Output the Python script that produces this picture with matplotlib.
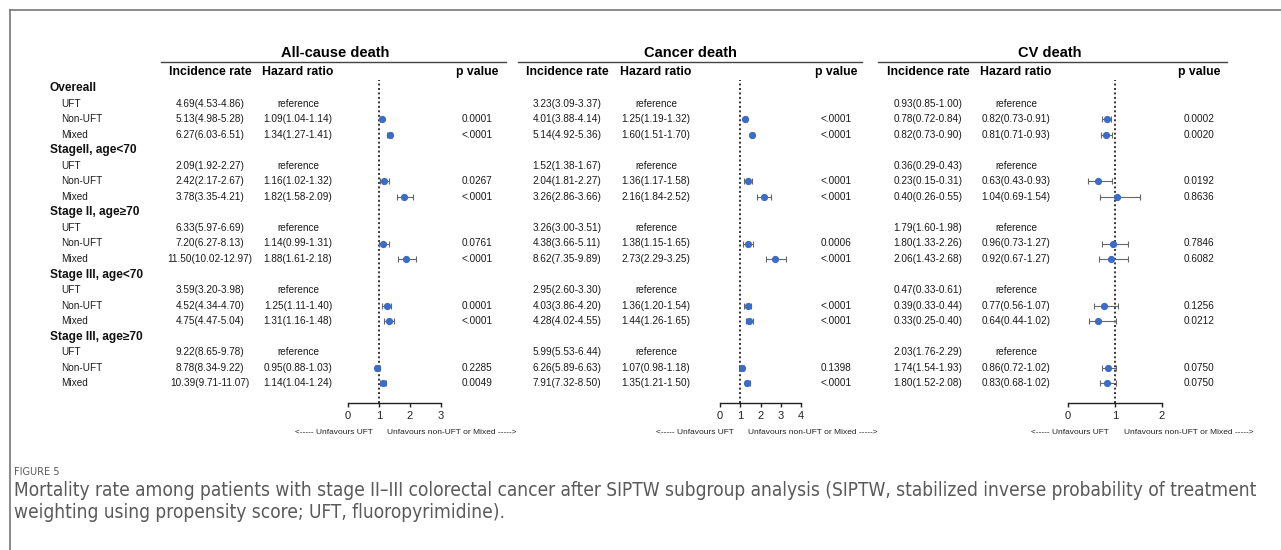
import matplotlib
matplotlib.use('Agg')
import matplotlib.pyplot as plt

plt.rcParams['font.family'] = ['Liberation Sans', 'DejaVu Sans']

# --- data -------------------------------------------------------------
groups = ['Overeall', 'StageII, age<70', 'Stage II, age\u226570',
          'Stage III, age<70', 'Stage III, age\u226570']
arms = ['UFT', 'Non-UFT', 'Mixed']
panels = ['All-cause death', 'Cancer death', 'CV death']

# incidence rate (UFT, Non-UFT, Mixed) per group
ac_rate = [[4.69, 5.13, 6.27], [2.09, 2.42, 3.78], [6.33, 7.20, 11.50], [3.59, 4.52, 4.75], [9.22, 8.78, 10.39]]
ac_rate_lo = [[4.53, 4.98, 6.03], [1.92, 2.17, 3.35], [5.97, 6.27, 10.02], [3.20, 4.34, 4.47], [8.65, 8.34, 9.71]]
ac_rate_hi = [[4.86, 5.28, 6.51], [2.27, 2.67, 4.21], [6.69, 8.13, 12.97], [3.98, 4.70, 5.04], [9.78, 9.22, 11.07]]
# hazard ratio (Non-UFT, Mixed) vs UFT
ac_hr = [[1.09, 1.34], [1.16, 1.82], [1.14, 1.88], [1.25, 1.31], [0.95, 1.14]]
ac_hr_lo = [[1.04, 1.27], [1.02, 1.58], [0.99, 1.61], [1.11, 1.16], [0.88, 1.04]]
ac_hr_hi = [[1.14, 1.41], [1.32, 2.09], [1.31, 2.18], [1.40, 1.48], [1.03, 1.24]]
ac_p = [['0.0001', '<.0001'], ['0.0267', '<.0001'], ['0.0761', '<.0001'], ['0.0001', '<.0001'], ['0.2285', '0.0049']]

ca_rate = [[3.23, 4.01, 5.14], [1.52, 2.04, 3.26], [3.26, 4.38, 8.62], [2.95, 4.03, 4.28], [5.99, 6.26, 7.91]]
ca_rate_lo = [[3.09, 3.88, 4.92], [1.38, 1.81, 2.86], [3.00, 3.66, 7.35], [2.60, 3.86, 4.02], [5.53, 5.89, 7.32]]
ca_rate_hi = [[3.37, 4.14, 5.36], [1.67, 2.27, 3.66], [3.51, 5.11, 9.89], [3.30, 4.20, 4.55], [6.44, 6.63, 8.50]]
ca_hr = [[1.25, 1.60], [1.36, 2.16], [1.38, 2.73], [1.36, 1.44], [1.07, 1.35]]
ca_hr_lo = [[1.19, 1.51], [1.17, 1.84], [1.15, 2.29], [1.20, 1.26], [0.98, 1.21]]
ca_hr_hi = [[1.32, 1.70], [1.58, 2.52], [1.65, 3.25], [1.54, 1.65], [1.18, 1.50]]
ca_p = [['<.0001', '<.0001'], ['<.0001', '<.0001'], ['0.0006', '<.0001'], ['<.0001', '<.0001'], ['0.1398', '<.0001']]

cv_rate = [[0.93, 0.78, 0.82], [0.36, 0.23, 0.40], [1.79, 1.80, 2.06], [0.47, 0.39, 0.33], [2.03, 1.74, 1.80]]
cv_rate_lo = [[0.85, 0.72, 0.73], [0.29, 0.15, 0.26], [1.60, 1.33, 1.43], [0.33, 0.33, 0.25], [1.76, 1.54, 1.52]]
cv_rate_hi = [[1.00, 0.84, 0.90], [0.43, 0.31, 0.55], [1.98, 2.26, 2.68], [0.61, 0.44, 0.40], [2.29, 1.93, 2.08]]
cv_hr = [[0.82, 0.81], [0.63, 1.04], [0.96, 0.92], [0.77, 0.64], [0.86, 0.83]]
cv_hr_lo = [[0.73, 0.71], [0.43, 0.69], [0.73, 0.67], [0.56, 0.44], [0.72, 0.68]]
cv_hr_hi = [[0.91, 0.93], [0.93, 1.54], [1.27, 1.27], [1.07, 1.02], [1.02, 1.02]]
cv_p = [['0.0002', '0.0020'], ['0.0192', '0.8636'], ['0.7846', '0.6082'], ['0.1256', '0.0212'], ['0.0750', '0.0750']]

axis_ticks = [[0, 1, 2, 3], [0, 1, 2, 3, 4], [0, 1, 2]]

caption_head = 'FIGURE 5'
caption_lines = ['Mortality rate among patients with stage II\u2013III colorectal cancer after SIPTW subgroup analysis '
                 '(SIPTW, stabilized inverse probability of treatment',
                 'weighting using propensity score; UFT, fluoropyrimidine).']

# --- layout (pixels) --------------------------------------------------
W, H = 1281, 550
ROW0, DROW = 88, 15.55
def ypx(r):
    return ROW0 + DROW * r

# per panel: title center, underline span, rate col, hr col, p col, forest x-span
layout = [
    dict(title_x=335, line=(161, 506), rate_x=210, hr_x=298, p_x=477, fx=(348, 441),
         larr=373, rarr=387),
    dict(title_x=690, line=(518, 862), rate_x=567, hr_x=656, p_x=836, fx=(720, 801),
         larr=734, rarr=748),
    dict(title_x=1050, line=(878, 1227), rate_x=928, hr_x=1016, p_x=1199, fx=(1068, 1162),
         larr=1109, rarr=1124),
]

data = [
    (ac_rate, ac_rate_lo, ac_rate_hi, ac_hr, ac_hr_lo, ac_hr_hi, ac_p),
    (ca_rate, ca_rate_lo, ca_rate_hi, ca_hr, ca_hr_lo, ca_hr_hi, ca_p),
    (cv_rate, cv_rate_lo, cv_rate_hi, cv_hr, cv_hr_lo, cv_hr_hi, cv_p),
]

fig = plt.figure(figsize=(W / 100, H / 100), dpi=100)
bg = fig.add_axes([0, 0, 1, 1])
bg.set_xlim(0, W)
bg.set_ylim(H, 0)
bg.axis('off')

# border
bg.plot([10, W], [10, 10], color='#777777', lw=1.2)
bg.plot([10, 10], [10, H], color='#777777', lw=1.2)

body = dict(fontsize=7.2, color='#1a1a1a', va='center')

# row labels
for g, gname in enumerate(groups):
    r0 = g * 4
    bg.text(50, ypx(r0), gname, fontsize=8.6, fontweight='bold', va='center', color='#111111')
    for a, aname in enumerate(arms):
        bg.text(61, ypx(r0 + 1 + a), aname, ha='left', **body)

axis_top, axis_bot = 80, 403
for k, (lay, d) in enumerate(zip(layout, data)):
    rate, rlo, rhi, hr, hlo, hhi, pv = d
    bg.text(lay['title_x'], 53, panels[k], ha='center', va='center',
            fontsize=10.5, fontweight='bold')
    bg.plot(lay['line'], [62, 62], color='#444444', lw=1.0)
    bg.text(lay['rate_x'], 72, 'Incidence rate', ha='center', va='center', fontsize=8.8, fontweight='bold')
    bg.text(lay['hr_x'], 72, 'Hazard ratio', ha='center', va='center', fontsize=8.8, fontweight='bold')
    bg.text(lay['p_x'], 72, 'p value', ha='center', va='center', fontsize=8.8, fontweight='bold')

    ys, xs, xe_lo, xe_hi = [], [], [], []
    for g in range(len(groups)):
        r0 = g * 4
        for a in range(3):
            y = ypx(r0 + 1 + a)
            bg.text(lay['rate_x'], y, f'{rate[g][a]:.2f}({rlo[g][a]:.2f}-{rhi[g][a]:.2f})', ha='center', **body)
            if a == 0:
                bg.text(lay['hr_x'], y, 'reference', ha='center', **body)
            else:
                bg.text(lay['hr_x'], y, f'{hr[g][a-1]:.2f}({hlo[g][a-1]:.2f}-{hhi[g][a-1]:.2f})', ha='center', **body)
                bg.text(lay['p_x'], y, pv[g][a-1], ha='center', **body)
                ys.append(r0 + 1 + a)
                xs.append(hr[g][a-1])
                xe_lo.append(hr[g][a-1] - hlo[g][a-1])
                xe_hi.append(hhi[g][a-1] - hr[g][a-1])

    # forest axes
    x0, x1 = lay['fx']
    ax = fig.add_axes([x0 / W, 1 - axis_bot / H, (x1 - x0) / W, (axis_bot - axis_top) / H])
    ax.set_xlim(axis_ticks[k][0], axis_ticks[k][-1])
    ax.set_ylim((axis_bot - ROW0) / DROW, (axis_top - ROW0) / DROW)
    ax.patch.set_alpha(0)
    for s in ('left', 'right', 'top'):
        ax.spines[s].set_visible(False)
    ax.spines['bottom'].set_color('#222222')
    ax.spines['bottom'].set_linewidth(1.0)
    ax.set_yticks([])
    ax.set_xticks(axis_ticks[k])
    ax.tick_params(axis='x', length=3, width=1.0, labelsize=8, pad=3, colors='#222222')
    ax.axvline(1, color='#333333', ls=(0, (1, 1.3)), lw=1.4)
    ax.errorbar(xs, ys, xerr=[xe_lo, xe_hi], fmt='o', color='#3a6cc8', ms=4.2,
                ecolor='#666666', elinewidth=0.8, capsize=2, capthick=0.8, clip_on=False)

    bg.text(lay['larr'], 432, '<----- Unfavours UFT', ha='right', va='center', fontsize=6, color='#222222')
    bg.text(lay['rarr'], 432, 'Unfavours non-UFT or Mixed ----->', ha='left', va='center', fontsize=6, color='#222222')

# caption (condensed face, sized so the first line spans the reference width)
cap_kw = dict(family='DejaVu Sans', fontstretch='condensed', color='#5a5a5a', va='center')
bg.text(14, 472, caption_head, fontsize=7.8, **cap_kw)
t1 = bg.text(14, 491, caption_lines[0], fontsize=10, **cap_kw)
t2 = bg.text(14, 512, caption_lines[1], fontsize=10, **cap_kw)
fig.canvas.draw()
scale = (1262 - 14) / t1.get_window_extent().width
t1.set_fontsize(10 * scale)
t2.set_fontsize(10 * scale)

fig.savefig('out.png', dpi=100)
